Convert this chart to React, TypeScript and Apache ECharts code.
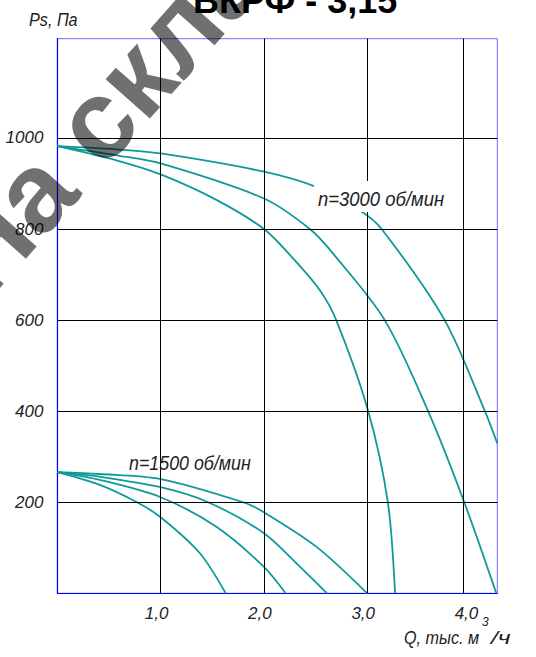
import React, { useEffect, useRef } from "react";
import * as echarts from "echarts";

// Q, thousand m3/h  and  Ps, Pa
const q3000a = [0, 0.57, 1.0, 2.0, 2.51, 2.94, 3.14, 3.75, 4.14, 4.26];
const p3000a = [982, 975, 966, 926, 892, 839, 800, 600, 400, 329];
const q3000b = [0, 0.57, 1.0, 2.0, 2.445, 2.67, 3.17, 3.59, 3.94, 4.25];
const p3000b = [982, 962, 944, 867, 800, 746, 600, 400, 200, 0];
const q3000c = [0, 0.57, 1.0, 1.54, 2.0, 2.28, 2.54, 2.7, 3.01, 3.2, 3.27];
const p3000c = [982, 951, 920, 864, 800, 736, 666, 600, 400, 200, 0];

const q1500a = [0, 0.41, 1.0, 1.8, 2.0, 2.51, 3.0];
const p1500a = [266, 262, 251, 200, 178, 102, 0];
const q1500b = [0, 0.41, 1.0, 1.46, 2.0, 2.35, 2.61];
const p1500b = [266, 256, 233, 200, 132, 58, 0];
const q1500c = [0, 0.41, 1.0, 1.54, 2.0, 2.21];
const p1500c = [266, 249, 211, 146, 58, 0];
const q1500d = [0, 0.41, 0.77, 1.0, 1.38, 1.63];
const p1500d = [266, 238, 200, 167, 88, 0];

const xGridLines = [1, 2, 3, 3.93];
const yGridLines = [200, 400, 600, 800, 1000];
const xTickLabels = [1, 2, 3, 4];
const yTickLabels = [200, 400, 600, 800, 1000];

const title = "ВКРФ - 3,15";
const label3000 = "n=3000 об/мин";
const label1500 = "n=1500 об/мин";
const yName = "Ps, Па";
const xName = "Q, тыс. м";
const xNameSup = "3";
const xNameTail = "/ч";
const watermark = "На складе";

const FONT = "'Liberation Sans', Arial, sans-serif";
const CURVE = "#0f9a9a";
const INK = "#222222";

const curves = [
  [q3000a, p3000a],
  [q3000b, p3000b],
  [q3000c, p3000c],
  [q1500a, p1500a],
  [q1500b, p1500b],
  [q1500c, p1500c],
  [q1500d, p1500d],
];

export default function App() {
  const ref = useRef<HTMLDivElement>(null);
  useEffect(() => {
    document.body.style.margin = "0";
    const chart = echarts.init(ref.current!, null, { renderer: "svg" });
    const textStyle = (size: number) => ({
      fontFamily: FONT,
      fontStyle: "italic",
      fontSize: size,
      fill: INK,
    });
    chart.setOption({
      animation: false,
      backgroundColor: "#ffffff",
      grid: {
        left: 57.4,
        right: 38.7,
        top: 38.7,
        bottom: 63.7,
        show: true,
        borderColor: "#6b6bff",
        borderWidth: 1,
        backgroundColor: "transparent",
      },
      xAxis: {
        type: "value",
        min: 0,
        max: 4.26,
        interval: 1,
        axisLine: { show: true, lineStyle: { color: "#0000ff", width: 1.2 } },
        axisTick: { show: false },
        splitLine: { show: false },
        axisLabel: {
          margin: 12,
          fontFamily: FONT,
          fontStyle: "italic",
          fontSize: 17,
          color: INK,
          padding: [0, 8, 0, 0],
          formatter: (v: number) =>
            xTickLabels.includes(v) ? v.toFixed(1).replace(".", ",") : "",
        },
      },
      yAxis: {
        type: "value",
        min: 0,
        max: 1218,
        interval: 200,
        axisLine: { show: true, lineStyle: { color: "#0000ff", width: 1.2 } },
        axisTick: { show: false },
        splitLine: { show: false },
        axisLabel: {
          margin: 14,
          fontFamily: FONT,
          fontStyle: "italic",
          fontSize: 17,
          color: INK,
          formatter: (v: number) => (yTickLabels.includes(v) ? String(v) : ""),
        },
      },
      series: [
        {
          type: "line",
          data: [],
          z: 1,
          markLine: {
            silent: true,
            symbol: "none",
            label: { show: false },
            lineStyle: { color: "#000000", width: 1, type: "solid" },
            data: [
              ...xGridLines.map((x) => ({ xAxis: x })),
              ...yGridLines.map((y) => ({ yAxis: y })),
            ],
          },
        },
        ...curves.map(([qs, ps]) => ({
          type: "line",
          z: 3,
          showSymbol: false,
          smooth: 0.3,
          clip: true,
          lineStyle: { color: CURVE, width: 1.8 },
          data: qs.map((q, i) => [q, ps[i]]),
        })),
      ],
      graphic: [
        {
          type: "rect",
          z: 49,
          shape: { x: 314, y: 181, width: 140, height: 31 },
          style: { fill: "#ffffff" },
        },
        {
          type: "text",
          z: 50,
          x: 318,
          y: 199,
          scaleX: 0.88,
          style: { ...textStyle(21), text: label3000, verticalAlign: "middle" },
        },
        {
          type: "text",
          z: 50,
          x: 129,
          y: 462,
          scaleX: 0.85,
          style: { ...textStyle(21), text: label1500, verticalAlign: "middle" },
        },
        {
          type: "text",
          z: 50,
          x: 29,
          y: 20,
          scaleX: 0.9,
          style: { ...textStyle(18), text: yName, verticalAlign: "middle" },
        },
        {
          type: "text",
          z: 50,
          x: 404,
          y: 638,
          scaleX: 0.9,
          style: { ...textStyle(18), text: xName, verticalAlign: "middle" },
        },
        {
          type: "text",
          z: 50,
          x: 482,
          y: 622,
          style: { ...textStyle(12), text: xNameSup, verticalAlign: "middle" },
        },
        {
          type: "text",
          z: 50,
          x: 491,
          y: 638,
          scaleX: 1.3,
          style: { ...textStyle(19), text: xNameTail, verticalAlign: "middle" },
        },
        {
          type: "text",
          z: 60,
          x: 193,
          y: 18,
          style: {
            text: title,
            fontFamily: FONT,
            fontWeight: "bold",
            fontSize: 36,
            fill: "#000000",
            verticalAlign: "bottom",
          },
        },
        {
          type: "text",
          z: 100,
          x: 145,
          y: 66,
          rotation: (48.5 * Math.PI) / 180,
          style: {
            text: watermark,
            fontFamily: FONT,
            fontWeight: "bold",
            fontSize: 112,
            fill: "rgba(0,0,0,0.56)",
            align: "center",
            verticalAlign: "middle",
          },
        },
      ],
    });
    return () => chart.dispose();
  }, []);
  return (
    <div
      ref={ref}
      style={{ position: "absolute", left: 0, top: 0, width: 536, height: 657 }}
    />
  );
}
